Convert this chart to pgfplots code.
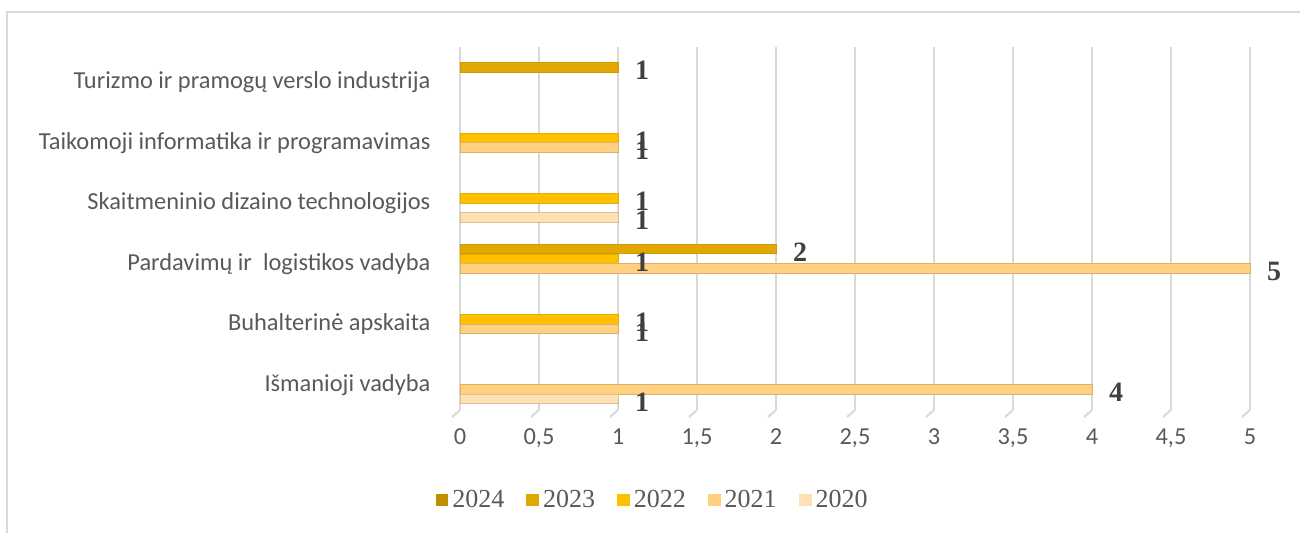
\documentclass[border=0pt]{standalone}
\usepackage{fontspec}
\setmainfont{Carlito}
\newfontfamily\serif{Liberation Serif}
\usepackage{pgfplots}
\pgfplotsset{compat=1.18}
\definecolor{c24}{HTML}{BF8F00}
\definecolor{c23}{HTML}{E0A800}
\definecolor{c22}{HTML}{FFC000}
\definecolor{c21}{HTML}{FFD080}
\definecolor{c20}{HTML}{FFE1B4}
\definecolor{gridc}{HTML}{D9D9D9}
\definecolor{txt}{HTML}{595959}
\definecolor{lbl}{HTML}{404040}
\begin{document}
\begin{tikzpicture}
\useasboundingbox (-230pt,-61pt) rectangle (420pt,205pt);
\draw[gridc, line width=0.8pt] (-226.5pt,-80pt) rectangle (440pt,199pt);
\begin{axis}[
  at={(0,0)}, anchor=south west,
  scale only axis, width=395pt, height=181.5pt,
  xmin=0, xmax=5, ymin=-0.5, ymax=5.5,
  clip=false,
  xbar, bar width=0.157,
  xtick={0,0.5,...,5}, ytick={0,...,5},
  yticklabels={Išmanioji vadyba, Buhalterinė apskaita, {Pardavimų ir\ \ logistikos vadyba}, Skaitmeninio dizaino technologijos, Taikomoji informatika ir programavimas, Turizmo ir pramogų verslo industrija},
  xmajorgrids, major grid style={gridc, line width=1pt},
  axis line style={draw=none}, tick style={draw=none},
  /pgf/number format/use comma,
  /pgf/number format/assume math mode=true,
  ticklabel style={font=\fontsize{12.2}{14}\selectfont, text=txt},
  xticklabel style={yshift=-6pt},
  yticklabel style={xshift=-7pt, yshift=-2.5pt},
  point meta=x,
  nodes near coords={\pgfmathprintnumber{\pgfplotspointmeta}},
  nodes near coords style={font=\serif\bfseries\fontsize{14}{15}\selectfont, text=lbl, anchor=west, xshift=5pt, yshift=-1.5pt},
  legend style={at={(0.245,-0.248)}, anchor=center, draw=none, fill=none, legend columns=5,
    font=\serif\fontsize{13}{15}\selectfont, text=txt,
    /tikz/every even column/.append style={column sep=9pt}},
  legend image code/.code={\fill[#1,draw=none] (0pt,-3.2pt) rectangle (6.4pt,3.2pt);},
]
\addlegendimage{fill=c24}
\addlegendentry{2024}
\addplot[fill=c23, draw=c23!92!black, line width=0.4pt, bar shift=0.159] coordinates {(1,5) (2,2)};
\addlegendentry{2023}
\addplot[fill=c22, draw=c22!90!black, line width=0.4pt, bar shift=0] coordinates {(1,4) (1,3) (1,2) (1,1)};
\addlegendentry{2022}
\addplot[fill=c21, draw=c21!85!black, line width=0.4pt, bar shift=-0.159] coordinates {(1,4) (5,2) (1,1) (4,0)};
\addlegendentry{2021}
\addplot[fill=c20, draw=c20!85!black, line width=0.4pt, bar shift=-0.318] coordinates {(1,3) (1,0)};
\addlegendentry{2020}
\pgfplotsinvokeforeach{0,0.5,1,1.5,2,2.5,3,3.5,4,4.5,5}{
  \draw[gridc, line width=1pt] (axis cs:#1,-0.5) -- ++(-4pt,-3.5pt);
}
\end{axis}
\end{tikzpicture}
\end{document}
